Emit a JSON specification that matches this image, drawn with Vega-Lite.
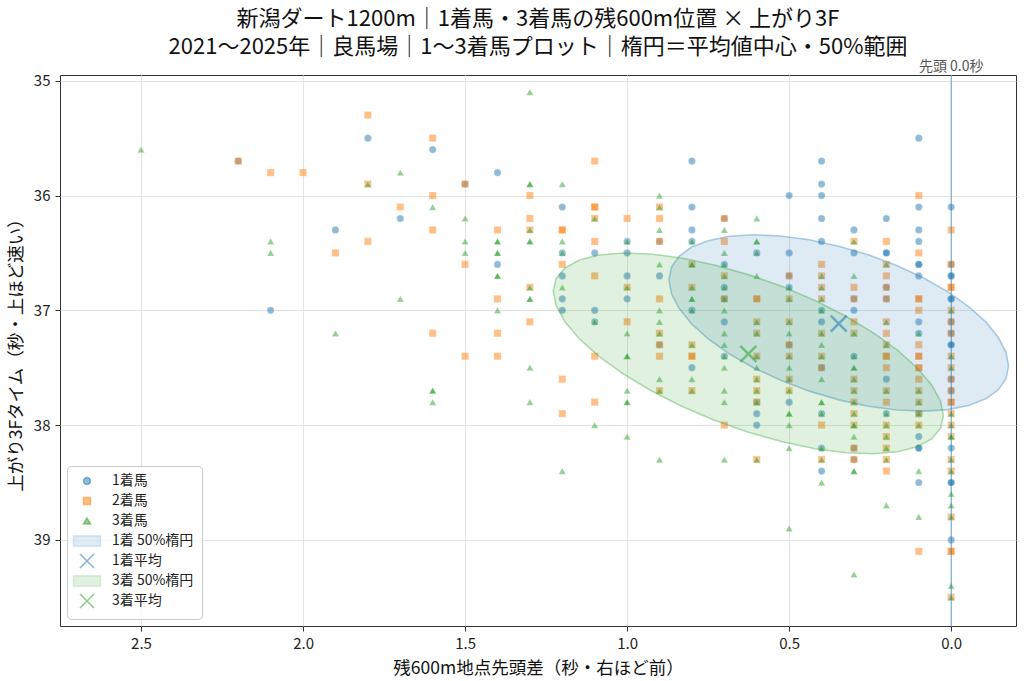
{
"$schema": "https://vega.github.io/schema/vega-lite/v6.json",
"autosize": {"type": "none"},
"width": 956,
"height": 551,
"padding": {"left": 60, "top": 75, "right": 8, "bottom": 55},
"background": "white",
"title": {"text": ["新潟ダート1200m｜1着馬・3着馬の残600m位置 × 上がり3F", "2021～2025年｜良馬場｜1～3着馬プロット｜楕円＝平均値中心・50%範囲"], "fontSize": 22, "fontWeight": "normal", "font": "Noto Sans CJK JP", "color": "#111111", "lineHeight": 28, "offset": 1, "anchor": "middle"},
"datasets": {
"pts": [
{"s":"1着馬","x":1.8,"y":35.5},{"s":"1着馬","x":2.2,"y":35.7},{"s":"1着馬","x":1.9,"y":36.3},{"s":"1着馬","x":2.1,"y":37.0},
{"s":"1着馬","x":1.7,"y":36.2},{"s":"1着馬","x":1.6,"y":35.6},{"s":"1着馬","x":1.5,"y":35.9},{"s":"1着馬","x":1.4,"y":35.8},{"s":"1着馬","x":1.4,"y":36.6},
{"s":"1着馬","x":1.2,"y":36.1},{"s":"1着馬","x":1.2,"y":36.5},{"s":"1着馬","x":1.2,"y":36.7},{"s":"1着馬","x":1.2,"y":36.9},{"s":"1着馬","x":1.2,"y":37.0},
{"s":"1着馬","x":1.1,"y":36.5},{"s":"1着馬","x":1.1,"y":37.0},{"s":"1着馬","x":1.1,"y":37.1},
{"s":"1着馬","x":1.0,"y":36.4},{"s":"1着馬","x":1.0,"y":36.5},{"s":"1着馬","x":1.0,"y":36.7},{"s":"1着馬","x":1.0,"y":36.9},
{"s":"1着馬","x":0.9,"y":36.4},{"s":"1着馬","x":0.9,"y":36.7},{"s":"1着馬","x":0.9,"y":37.3},
{"s":"1着馬","x":0.8,"y":35.7},{"s":"1着馬","x":0.8,"y":36.1},{"s":"1着馬","x":0.8,"y":36.3},{"s":"1着馬","x":0.8,"y":36.4},{"s":"1着馬","x":0.8,"y":37.0},{"s":"1着馬","x":0.8,"y":37.5},
{"s":"1着馬","x":0.7,"y":36.2},{"s":"1着馬","x":0.7,"y":36.6},{"s":"1着馬","x":0.7,"y":36.8},{"s":"1着馬","x":0.7,"y":36.9},{"s":"1着馬","x":0.7,"y":37.1},{"s":"1着馬","x":0.7,"y":37.4},
{"s":"1着馬","x":0.6,"y":36.5},{"s":"1着馬","x":0.6,"y":37.8},{"s":"1着馬","x":0.6,"y":37.9},{"s":"1着馬","x":0.6,"y":38.0},
{"s":"1着馬","x":0.5,"y":36.0},{"s":"1着馬","x":0.5,"y":36.5},{"s":"1着馬","x":0.5,"y":36.7},{"s":"1着馬","x":0.5,"y":36.8},{"s":"1着馬","x":0.5,"y":37.3},{"s":"1着馬","x":0.5,"y":37.8},
{"s":"1着馬","x":0.4,"y":35.7},{"s":"1着馬","x":0.4,"y":35.9},{"s":"1着馬","x":0.4,"y":36.0},{"s":"1着馬","x":0.4,"y":36.2},{"s":"1着馬","x":0.4,"y":36.4},{"s":"1着馬","x":0.4,"y":37.0},{"s":"1着馬","x":0.4,"y":37.1},{"s":"1着馬","x":0.4,"y":37.5},{"s":"1着馬","x":0.4,"y":37.9},{"s":"1着馬","x":0.4,"y":38.2},{"s":"1着馬","x":0.4,"y":38.4},
{"s":"1着馬","x":0.3,"y":36.3},{"s":"1着馬","x":0.3,"y":36.5},{"s":"1着馬","x":0.3,"y":36.9},{"s":"1着馬","x":0.3,"y":37.0},{"s":"1着馬","x":0.3,"y":37.4},{"s":"1着馬","x":0.3,"y":38.2},{"s":"1着馬","x":0.3,"y":38.3},
{"s":"1着馬","x":0.2,"y":36.2},{"s":"1着馬","x":0.2,"y":36.5},{"s":"1着馬","x":0.2,"y":36.5},{"s":"1着馬","x":0.2,"y":36.8},{"s":"1着馬","x":0.2,"y":36.9},{"s":"1着馬","x":0.2,"y":37.6},{"s":"1着馬","x":0.2,"y":37.9},
{"s":"1着馬","x":0.1,"y":35.5},{"s":"1着馬","x":0.1,"y":36.1},{"s":"1着馬","x":0.1,"y":36.3},{"s":"1着馬","x":0.1,"y":36.4},{"s":"1着馬","x":0.1,"y":36.6},{"s":"1着馬","x":0.1,"y":36.6},{"s":"1着馬","x":0.1,"y":36.7},{"s":"1着馬","x":0.1,"y":37.1},{"s":"1着馬","x":0.1,"y":37.2},{"s":"1着馬","x":0.1,"y":37.9},{"s":"1着馬","x":0.1,"y":38.1},{"s":"1着馬","x":0.1,"y":38.2},{"s":"1着馬","x":0.1,"y":38.2},{"s":"1着馬","x":0.1,"y":38.5},
{"s":"1着馬","x":0.0,"y":36.1},{"s":"1着馬","x":0.0,"y":36.6},{"s":"1着馬","x":0.0,"y":36.7},{"s":"1着馬","x":0.0,"y":36.7},{"s":"1着馬","x":0.0,"y":36.9},{"s":"1着馬","x":0.0,"y":36.9},{"s":"1着馬","x":0.0,"y":37.1},{"s":"1着馬","x":0.0,"y":37.2},{"s":"1着馬","x":0.0,"y":37.3},{"s":"1着馬","x":0.0,"y":37.3},{"s":"1着馬","x":0.0,"y":37.6},{"s":"1着馬","x":0.0,"y":37.7},{"s":"1着馬","x":0.0,"y":38.2},{"s":"1着馬","x":0.0,"y":38.5},{"s":"1着馬","x":0.0,"y":38.5},{"s":"1着馬","x":0.0,"y":39.0},
{"s":"2着馬","x":2.2,"y":35.7},{"s":"2着馬","x":2.1,"y":35.8},{"s":"2着馬","x":2.0,"y":35.8},{"s":"2着馬","x":1.8,"y":35.3},{"s":"2着馬","x":1.8,"y":35.9},{"s":"2着馬","x":1.8,"y":36.4},{"s":"2着馬","x":1.9,"y":36.5},
{"s":"2着馬","x":1.7,"y":36.1},
{"s":"2着馬","x":1.6,"y":35.5},{"s":"2着馬","x":1.6,"y":36.0},{"s":"2着馬","x":1.6,"y":36.3},{"s":"2着馬","x":1.6,"y":37.2},
{"s":"2着馬","x":1.5,"y":35.9},{"s":"2着馬","x":1.5,"y":36.6},{"s":"2着馬","x":1.5,"y":37.4},
{"s":"2着馬","x":1.4,"y":36.3},{"s":"2着馬","x":1.4,"y":36.9},{"s":"2着馬","x":1.4,"y":37.2},{"s":"2着馬","x":1.4,"y":37.4},
{"s":"2着馬","x":1.3,"y":36.0},{"s":"2着馬","x":1.3,"y":36.2},{"s":"2着馬","x":1.3,"y":36.3},{"s":"2着馬","x":1.3,"y":36.8},{"s":"2着馬","x":1.3,"y":37.1},
{"s":"2着馬","x":1.2,"y":36.3},{"s":"2着馬","x":1.2,"y":36.3},{"s":"2着馬","x":1.2,"y":36.6},{"s":"2着馬","x":1.2,"y":37.6},{"s":"2着馬","x":1.2,"y":37.9},
{"s":"2着馬","x":1.1,"y":35.7},{"s":"2着馬","x":1.1,"y":36.1},{"s":"2着馬","x":1.1,"y":36.1},{"s":"2着馬","x":1.1,"y":36.2},{"s":"2着馬","x":1.1,"y":36.4},{"s":"2着馬","x":1.1,"y":36.7},{"s":"2着馬","x":1.1,"y":37.4},{"s":"2着馬","x":1.1,"y":37.8},
{"s":"2着馬","x":1.0,"y":36.2},{"s":"2着馬","x":1.0,"y":36.8},{"s":"2着馬","x":1.0,"y":37.1},
{"s":"2着馬","x":0.9,"y":36.1},{"s":"2着馬","x":0.9,"y":36.2},{"s":"2着馬","x":0.9,"y":36.4},{"s":"2着馬","x":0.9,"y":36.9},{"s":"2着馬","x":0.9,"y":37.2},{"s":"2着馬","x":0.9,"y":37.3},{"s":"2着馬","x":0.9,"y":37.4},{"s":"2着馬","x":0.9,"y":37.7},
{"s":"2着馬","x":0.8,"y":36.6},{"s":"2着馬","x":0.8,"y":36.8},{"s":"2着馬","x":0.8,"y":37.3},{"s":"2着馬","x":0.8,"y":37.4},{"s":"2着馬","x":0.8,"y":37.4},{"s":"2着馬","x":0.8,"y":37.7},
{"s":"2着馬","x":0.7,"y":36.2},{"s":"2着馬","x":0.7,"y":36.4},{"s":"2着馬","x":0.7,"y":36.7},{"s":"2着馬","x":0.7,"y":36.9},{"s":"2着馬","x":0.7,"y":38.0},
{"s":"2着馬","x":0.6,"y":36.9},{"s":"2着馬","x":0.6,"y":36.9},{"s":"2着馬","x":0.6,"y":37.1},{"s":"2着馬","x":0.6,"y":37.2},{"s":"2着馬","x":0.6,"y":37.4},{"s":"2着馬","x":0.6,"y":37.6},{"s":"2着馬","x":0.6,"y":37.7},{"s":"2着馬","x":0.6,"y":37.8},{"s":"2着馬","x":0.6,"y":38.3},
{"s":"2着馬","x":0.5,"y":36.7},{"s":"2着馬","x":0.5,"y":36.9},{"s":"2着馬","x":0.5,"y":37.1},{"s":"2着馬","x":0.5,"y":37.3},{"s":"2着馬","x":0.5,"y":37.4},{"s":"2着馬","x":0.5,"y":37.6},{"s":"2着馬","x":0.5,"y":37.7},
{"s":"2着馬","x":0.4,"y":36.6},{"s":"2着馬","x":0.4,"y":36.7},{"s":"2着馬","x":0.4,"y":36.8},{"s":"2着馬","x":0.4,"y":36.9},{"s":"2着馬","x":0.4,"y":37.2},{"s":"2着馬","x":0.4,"y":37.4},{"s":"2着馬","x":0.4,"y":37.5},{"s":"2着馬","x":0.4,"y":38.0},{"s":"2着馬","x":0.4,"y":38.3},
{"s":"2着馬","x":0.3,"y":36.4},{"s":"2着馬","x":0.3,"y":36.8},{"s":"2着馬","x":0.3,"y":36.9},{"s":"2着馬","x":0.3,"y":37.1},{"s":"2着馬","x":0.3,"y":37.2},{"s":"2着馬","x":0.3,"y":37.6},{"s":"2着馬","x":0.3,"y":37.7},{"s":"2着馬","x":0.3,"y":37.8},{"s":"2着馬","x":0.3,"y":37.9},{"s":"2着馬","x":0.3,"y":38.0},{"s":"2着馬","x":0.3,"y":38.2},{"s":"2着馬","x":0.3,"y":38.3},
{"s":"2着馬","x":0.2,"y":36.4},{"s":"2着馬","x":0.2,"y":36.6},{"s":"2着馬","x":0.2,"y":36.7},{"s":"2着馬","x":0.2,"y":36.8},{"s":"2着馬","x":0.2,"y":36.9},{"s":"2着馬","x":0.2,"y":37.1},{"s":"2着馬","x":0.2,"y":37.2},{"s":"2着馬","x":0.2,"y":37.3},{"s":"2着馬","x":0.2,"y":37.4},{"s":"2着馬","x":0.2,"y":37.4},{"s":"2着馬","x":0.2,"y":37.5},{"s":"2着馬","x":0.2,"y":37.7},{"s":"2着馬","x":0.2,"y":37.8},{"s":"2着馬","x":0.2,"y":38.0},{"s":"2着馬","x":0.2,"y":38.1},{"s":"2着馬","x":0.2,"y":38.2},{"s":"2着馬","x":0.2,"y":38.3},{"s":"2着馬","x":0.2,"y":38.4},
{"s":"2着馬","x":0.1,"y":36.0},{"s":"2着馬","x":0.1,"y":36.5},{"s":"2着馬","x":0.1,"y":36.9},{"s":"2着馬","x":0.1,"y":36.9},{"s":"2着馬","x":0.1,"y":37.0},{"s":"2着馬","x":0.1,"y":37.3},{"s":"2着馬","x":0.1,"y":37.4},{"s":"2着馬","x":0.1,"y":37.4},{"s":"2着馬","x":0.1,"y":37.5},{"s":"2着馬","x":0.1,"y":37.5},{"s":"2着馬","x":0.1,"y":37.6},{"s":"2着馬","x":0.1,"y":37.7},{"s":"2着馬","x":0.1,"y":37.8},{"s":"2着馬","x":0.1,"y":37.9},{"s":"2着馬","x":0.1,"y":38.0},{"s":"2着馬","x":0.1,"y":39.1},
{"s":"2着馬","x":0.0,"y":36.3},{"s":"2着馬","x":0.0,"y":36.6},{"s":"2着馬","x":0.0,"y":36.8},{"s":"2着馬","x":0.0,"y":36.8},{"s":"2着馬","x":0.0,"y":37.0},{"s":"2着馬","x":0.0,"y":37.1},{"s":"2着馬","x":0.0,"y":37.2},{"s":"2着馬","x":0.0,"y":37.4},{"s":"2着馬","x":0.0,"y":37.5},{"s":"2着馬","x":0.0,"y":37.6},{"s":"2着馬","x":0.0,"y":37.7},{"s":"2着馬","x":0.0,"y":37.8},{"s":"2着馬","x":0.0,"y":37.8},{"s":"2着馬","x":0.0,"y":37.9},{"s":"2着馬","x":0.0,"y":38.0},{"s":"2着馬","x":0.0,"y":38.1},{"s":"2着馬","x":0.0,"y":38.3},{"s":"2着馬","x":0.0,"y":38.4},{"s":"2着馬","x":0.0,"y":38.8},{"s":"2着馬","x":0.0,"y":39.1},{"s":"2着馬","x":0.0,"y":39.1},{"s":"2着馬","x":0.0,"y":39.5},
{"s":"3着馬","x":2.5,"y":35.6},{"s":"3着馬","x":2.1,"y":36.4},{"s":"3着馬","x":2.1,"y":36.5},{"s":"3着馬","x":1.9,"y":37.2},{"s":"3着馬","x":1.8,"y":35.9},
{"s":"3着馬","x":1.7,"y":35.8},{"s":"3着馬","x":1.7,"y":36.9},
{"s":"3着馬","x":1.6,"y":36.1},{"s":"3着馬","x":1.6,"y":37.7},{"s":"3着馬","x":1.6,"y":37.7},{"s":"3着馬","x":1.6,"y":37.8},
{"s":"3着馬","x":1.5,"y":36.2},{"s":"3着馬","x":1.5,"y":36.4},{"s":"3着馬","x":1.5,"y":36.5},
{"s":"3着馬","x":1.4,"y":36.4},{"s":"3着馬","x":1.4,"y":36.4},{"s":"3着馬","x":1.4,"y":36.5},{"s":"3着馬","x":1.4,"y":36.5},{"s":"3着馬","x":1.4,"y":36.7},{"s":"3着馬","x":1.4,"y":36.7},{"s":"3着馬","x":1.4,"y":37.0},
{"s":"3着馬","x":1.3,"y":35.1},{"s":"3着馬","x":1.3,"y":35.9},{"s":"3着馬","x":1.3,"y":35.9},{"s":"3着馬","x":1.3,"y":36.3},{"s":"3着馬","x":1.3,"y":36.4},{"s":"3着馬","x":1.3,"y":36.4},{"s":"3着馬","x":1.3,"y":36.8},{"s":"3着馬","x":1.3,"y":36.9},{"s":"3着馬","x":1.3,"y":36.9},{"s":"3着馬","x":1.3,"y":37.5},{"s":"3着馬","x":1.3,"y":37.8},
{"s":"3着馬","x":1.2,"y":35.9},{"s":"3着馬","x":1.2,"y":36.4},{"s":"3着馬","x":1.2,"y":36.5},{"s":"3着馬","x":1.2,"y":36.8},{"s":"3着馬","x":1.2,"y":38.4},
{"s":"3着馬","x":1.1,"y":36.2},{"s":"3着馬","x":1.1,"y":37.1},{"s":"3着馬","x":1.1,"y":38.0},
{"s":"3着馬","x":1.0,"y":36.4},{"s":"3着馬","x":1.0,"y":36.8},{"s":"3着馬","x":1.0,"y":37.2},{"s":"3着馬","x":1.0,"y":37.4},{"s":"3着馬","x":1.0,"y":37.4},{"s":"3着馬","x":1.0,"y":37.7},{"s":"3着馬","x":1.0,"y":37.8},{"s":"3着馬","x":1.0,"y":37.8},{"s":"3着馬","x":1.0,"y":38.1},
{"s":"3着馬","x":0.9,"y":36.0},{"s":"3着馬","x":0.9,"y":36.1},{"s":"3着馬","x":0.9,"y":36.3},{"s":"3着馬","x":0.9,"y":36.6},{"s":"3着馬","x":0.9,"y":37.0},{"s":"3着馬","x":0.9,"y":37.1},{"s":"3着馬","x":0.9,"y":37.2},{"s":"3着馬","x":0.9,"y":37.6},{"s":"3着馬","x":0.9,"y":37.7},{"s":"3着馬","x":0.9,"y":38.3},
{"s":"3着馬","x":0.8,"y":36.4},{"s":"3着馬","x":0.8,"y":36.6},{"s":"3着馬","x":0.8,"y":36.6},{"s":"3着馬","x":0.8,"y":36.8},{"s":"3着馬","x":0.8,"y":36.9},{"s":"3着馬","x":0.8,"y":36.9},{"s":"3着馬","x":0.8,"y":37.0},{"s":"3着馬","x":0.8,"y":37.3},{"s":"3着馬","x":0.8,"y":37.6},{"s":"3着馬","x":0.8,"y":37.7},
{"s":"3着馬","x":0.7,"y":36.3},{"s":"3着馬","x":0.7,"y":36.5},{"s":"3着馬","x":0.7,"y":36.6},{"s":"3着馬","x":0.7,"y":36.7},{"s":"3着馬","x":0.7,"y":36.8},{"s":"3着馬","x":0.7,"y":36.9},{"s":"3着馬","x":0.7,"y":37.0},{"s":"3着馬","x":0.7,"y":37.2},{"s":"3着馬","x":0.7,"y":37.3},{"s":"3着馬","x":0.7,"y":37.4},{"s":"3着馬","x":0.7,"y":37.5},{"s":"3着馬","x":0.7,"y":37.7},{"s":"3着馬","x":0.7,"y":37.8},{"s":"3着馬","x":0.7,"y":38.3},
{"s":"3着馬","x":0.6,"y":36.2},{"s":"3着馬","x":0.6,"y":36.4},{"s":"3着馬","x":0.6,"y":36.4},{"s":"3着馬","x":0.6,"y":36.5},{"s":"3着馬","x":0.6,"y":36.7},{"s":"3着馬","x":0.6,"y":37.1},{"s":"3着馬","x":0.6,"y":37.2},{"s":"3着馬","x":0.6,"y":37.4},{"s":"3着馬","x":0.6,"y":37.5},{"s":"3着馬","x":0.6,"y":37.6},{"s":"3着馬","x":0.6,"y":37.7},{"s":"3着馬","x":0.6,"y":37.8},{"s":"3着馬","x":0.6,"y":38.3},
{"s":"3着馬","x":0.5,"y":36.8},{"s":"3着馬","x":0.5,"y":36.9},{"s":"3着馬","x":0.5,"y":37.1},{"s":"3着馬","x":0.5,"y":37.2},{"s":"3着馬","x":0.5,"y":37.4},{"s":"3着馬","x":0.5,"y":37.5},{"s":"3着馬","x":0.5,"y":37.6},{"s":"3着馬","x":0.5,"y":37.7},{"s":"3着馬","x":0.5,"y":37.9},{"s":"3着馬","x":0.5,"y":37.9},{"s":"3着馬","x":0.5,"y":38.0},{"s":"3着馬","x":0.5,"y":38.2},{"s":"3着馬","x":0.5,"y":38.9},
{"s":"3着馬","x":0.4,"y":36.7},{"s":"3着馬","x":0.4,"y":36.8},{"s":"3着馬","x":0.4,"y":36.9},{"s":"3着馬","x":0.4,"y":37.0},{"s":"3着馬","x":0.4,"y":37.2},{"s":"3着馬","x":0.4,"y":37.3},{"s":"3着馬","x":0.4,"y":37.4},{"s":"3着馬","x":0.4,"y":37.6},{"s":"3着馬","x":0.4,"y":37.8},{"s":"3着馬","x":0.4,"y":37.8},{"s":"3着馬","x":0.4,"y":37.9},{"s":"3着馬","x":0.4,"y":38.2},{"s":"3着馬","x":0.4,"y":38.3},{"s":"3着馬","x":0.4,"y":38.5},
{"s":"3着馬","x":0.3,"y":36.4},{"s":"3着馬","x":0.3,"y":36.7},{"s":"3着馬","x":0.3,"y":37.2},{"s":"3着馬","x":0.3,"y":37.4},{"s":"3着馬","x":0.3,"y":37.5},{"s":"3着馬","x":0.3,"y":37.5},{"s":"3着馬","x":0.3,"y":37.6},{"s":"3着馬","x":0.3,"y":37.7},{"s":"3着馬","x":0.3,"y":37.8},{"s":"3着馬","x":0.3,"y":37.9},{"s":"3着馬","x":0.3,"y":38.0},{"s":"3着馬","x":0.3,"y":38.0},{"s":"3着馬","x":0.3,"y":38.1},{"s":"3着馬","x":0.3,"y":38.4},{"s":"3着馬","x":0.3,"y":38.4},{"s":"3着馬","x":0.3,"y":39.3},
{"s":"3着馬","x":0.2,"y":36.6},{"s":"3着馬","x":0.2,"y":37.1},{"s":"3着馬","x":0.2,"y":37.3},{"s":"3着馬","x":0.2,"y":37.7},{"s":"3着馬","x":0.2,"y":37.9},{"s":"3着馬","x":0.2,"y":38.0},{"s":"3着馬","x":0.2,"y":38.1},{"s":"3着馬","x":0.2,"y":38.2},{"s":"3着馬","x":0.2,"y":38.3},{"s":"3着馬","x":0.2,"y":38.7},
{"s":"3着馬","x":0.1,"y":37.2},{"s":"3着馬","x":0.1,"y":37.7},{"s":"3着馬","x":0.1,"y":37.8},{"s":"3着馬","x":0.1,"y":37.9},{"s":"3着馬","x":0.1,"y":38.0},{"s":"3着馬","x":0.1,"y":38.4},{"s":"3着馬","x":0.1,"y":38.8},
{"s":"3着馬","x":0.0,"y":37.0},{"s":"3着馬","x":0.0,"y":37.4},{"s":"3着馬","x":0.0,"y":37.5},{"s":"3着馬","x":0.0,"y":37.9},{"s":"3着馬","x":0.0,"y":38.0},{"s":"3着馬","x":0.0,"y":38.1},{"s":"3着馬","x":0.0,"y":38.1},{"s":"3着馬","x":0.0,"y":38.3},{"s":"3着馬","x":0.0,"y":38.4},{"s":"3着馬","x":0.0,"y":38.6},{"s":"3着馬","x":0.0,"y":38.7},{"s":"3着馬","x":0.0,"y":38.8},{"s":"3着馬","x":0.0,"y":39.4},{"s":"3着馬","x":0.0,"y":39.5}
],
"ell1": [
{"s":"1着 50%楕円","x":0.871,"y":36.734,"y2":36.734},{"s":"1着 50%楕円","x":0.863,"y":36.623,"y2":36.856},{"s":"1着 50%楕円","x":0.839,"y":36.527,"y2":36.985},{"s":"1着 50%楕円","x":0.801,"y":36.449,"y2":37.119},{"s":"1着 50%楕円","x":0.748,"y":36.391,"y2":37.252},{"s":"1着 50%楕円","x":0.684,"y":36.355,"y2":37.381},{"s":"1着 50%楕円","x":0.609,"y":36.342,"y2":37.502},{"s":"1着 50%楕円","x":0.526,"y":36.352,"y2":37.610},{"s":"1着 50%楕円","x":0.438,"y":36.385,"y2":37.704},{"s":"1着 50%楕円","x":0.347,"y":36.441,"y2":37.780},{"s":"1着 50%楕円","x":0.256,"y":36.516,"y2":37.835},{"s":"1着 50%楕円","x":0.168,"y":36.610,"y2":37.868},{"s":"1着 50%楕円","x":0.085,"y":36.718,"y2":37.878},{"s":"1着 50%楕円","x":0.010,"y":36.839,"y2":37.865},{"s":"1着 50%楕円","x":-0.054,"y":36.968,"y2":37.829},{"s":"1着 50%楕円","x":-0.107,"y":37.101,"y2":37.771},{"s":"1着 50%楕円","x":-0.145,"y":37.235,"y2":37.693},{"s":"1着 50%楕円","x":-0.169,"y":37.364,"y2":37.597},{"s":"1着 50%楕円","x":-0.177,"y":37.486,"y2":37.486}
],
"ell3": [
{"s":"3着 50%楕円","x":1.228,"y":36.833,"y2":36.833},{"s":"3着 50%楕円","x":1.219,"y":36.722,"y2":36.960},{"s":"3着 50%楕円","x":1.192,"y":36.631,"y2":37.100},{"s":"3着 50%楕円","x":1.147,"y":36.562,"y2":37.249},{"s":"3着 50%楕円","x":1.087,"y":36.518,"y2":37.401},{"s":"3着 50%楕円","x":1.013,"y":36.500,"y2":37.552},{"s":"3着 50%楕円","x":0.927,"y":36.509,"y2":37.698},{"s":"3着 50%楕円","x":0.832,"y":36.544,"y2":37.835},{"s":"3着 50%楕円","x":0.731,"y":36.605,"y2":37.957},{"s":"3着 50%楕円","x":0.626,"y":36.689,"y2":38.062},{"s":"3着 50%楕円","x":0.521,"y":36.793,"y2":38.145},{"s":"3着 50%楕円","x":0.420,"y":36.915,"y2":38.206},{"s":"3着 50%楕円","x":0.325,"y":37.052,"y2":38.241},{"s":"3着 50%楕円","x":0.239,"y":37.198,"y2":38.250},{"s":"3着 50%楕円","x":0.165,"y":37.349,"y2":38.232},{"s":"3着 50%楕円","x":0.105,"y":37.502,"y2":38.188},{"s":"3着 50%楕円","x":0.060,"y":37.650,"y2":38.120},{"s":"3着 50%楕円","x":0.033,"y":37.790,"y2":38.028},{"s":"3着 50%楕円","x":0.024,"y":37.918,"y2":37.918}
],
"means": [
{"s":"1着平均","x":0.347,"y":37.115},{"s":"3着平均","x":0.626,"y":37.38}
],
"lead": [{"x":0.0,"t":"先頭 0.0秒"}]
},
"layer": [
{
"data": {"name": "pts"},
"mark": {"type": "point", "filled": true, "size": 52, "stroke": "white", "strokeWidth": 0.5, "strokeOpacity": 0.5, "opacity": 1},
"encoding": {
"x": {"field": "x", "type": "quantitative", "scale": {"domain": [-0.2, 2.75], "reverse": true, "nice": false, "zero": false}, "axis": {"title": "残600m地点先頭差（秒・右ほど前）", "values": [2.5, 2.0, 1.5, 1.0, 0.5, 0.0], "format": ".1f"}},
"y": {"field": "y", "type": "quantitative", "scale": {"domain": [34.95, 39.75], "reverse": true, "nice": false, "zero": false}, "axis": {"title": "上がり3Fタイム（秒・上ほど速い）", "values": [35, 36, 37, 38, 39], "format": "d"}},
"color": {"field": "s", "type": "nominal", "scale": {"domain": ["1着馬", "2着馬", "3着馬", "1着 50%楕円", "1着平均", "3着 50%楕円", "3着平均"], "range": ["rgba(31,119,180,0.5)", "rgba(255,127,14,0.5)", "rgba(44,160,44,0.5)", "rgba(31,119,180,0.15)", "rgba(31,119,180,0.55)", "rgba(44,160,44,0.15)", "rgba(44,160,44,0.55)"]},
 "legend": {"title": null, "orient": "bottom-left", "offset": 7, "padding": 8, "rowPadding": 0, "gridAlign": "all", "symbolSize": 49, "symbolOffset": 5, "labelOffset": 18, "labelFontSize": 14, "labelFont": "Noto Sans CJK JP", "labelColor": "#222222", "strokeColor": "#cccccc", "fillColor": "rgba(255,255,255,0.8)", "cornerRadius": 4,
 "encode": {"symbols": {
 "fill": {"value": {"expr": "indexof(['1着平均','3着平均'], datum.value) >= 0 ? 'transparent' : scale('color', datum.value)"}},
 "stroke": {"value": {"expr": "datum.value == '1着平均' ? 'rgba(31,119,180,0.55)' : datum.value == '3着平均' ? 'rgba(44,160,44,0.55)' : datum.value == '1着 50%楕円' ? 'rgba(31,119,180,0.35)' : datum.value == '3着 50%楕円' ? 'rgba(44,160,44,0.35)' : 'transparent'"}},
 "strokeWidth": {"value": {"expr": "indexof(['1着平均','3着平均'], datum.value) >= 0 ? 2.5 : 1.5"}},
 "opacity": {"value": 1}
 }}}},
"shape": {"field": "s", "type": "nominal", "scale": {"domain": ["1着馬", "2着馬", "3着馬", "1着 50%楕円", "1着平均", "3着 50%楕円", "3着平均"], "range": ["circle", "square", "triangle-up", "M-3.86,-1.5H3.86V1.5H-3.86Z", "M-2,-2L2,2M-2,2L2,-2", "M-3.86,-1.5H3.86V1.5H-3.86Z", "M-2,-2L2,2M-2,2L2,-2"]}, "legend": {"title": null}}
}
},
{
"data": {"name": "ell1"},
"mark": {"type": "area", "stroke": "rgba(31,119,180,0.35)", "strokeWidth": 1.6, "interpolate": "linear"},
"encoding": {
"x": {"field": "x", "type": "quantitative", "scale": {"domain": [-0.2, 2.75], "reverse": true, "nice": false, "zero": false}},
"y": {"field": "y", "type": "quantitative", "scale": {"domain": [34.95, 39.75], "reverse": true, "nice": false, "zero": false}},
"y2": {"field": "y2"},
"color": {"field": "s", "type": "nominal", "scale": {"domain": ["1着馬", "2着馬", "3着馬", "1着 50%楕円", "1着平均", "3着 50%楕円", "3着平均"], "range": ["rgba(31,119,180,0.5)", "rgba(255,127,14,0.5)", "rgba(44,160,44,0.5)", "rgba(31,119,180,0.15)", "rgba(31,119,180,0.55)", "rgba(44,160,44,0.15)", "rgba(44,160,44,0.55)"]}}
}
},
{
"data": {"name": "ell3"},
"mark": {"type": "area", "stroke": "rgba(44,160,44,0.35)", "strokeWidth": 1.6, "interpolate": "linear"},
"encoding": {
"x": {"field": "x", "type": "quantitative", "scale": {"domain": [-0.2, 2.75], "reverse": true, "nice": false, "zero": false}},
"y": {"field": "y", "type": "quantitative", "scale": {"domain": [34.95, 39.75], "reverse": true, "nice": false, "zero": false}},
"y2": {"field": "y2"},
"color": {"field": "s", "type": "nominal", "scale": {"domain": ["1着馬", "2着馬", "3着馬", "1着 50%楕円", "1着平均", "3着 50%楕円", "3着平均"], "range": ["rgba(31,119,180,0.5)", "rgba(255,127,14,0.5)", "rgba(44,160,44,0.5)", "rgba(31,119,180,0.15)", "rgba(31,119,180,0.55)", "rgba(44,160,44,0.15)", "rgba(44,160,44,0.55)"]}}
}
},
{
"data": {"name": "lead"},
"mark": {"type": "rule", "color": "#1f77b4", "opacity": 0.55, "strokeWidth": 1.2},
"encoding": {
"x": {"field": "x", "type": "quantitative", "scale": {"domain": [-0.2, 2.75], "reverse": true, "nice": false, "zero": false}}
}
},
{
"data": {"name": "lead"},
"mark": {"type": "text", "baseline": "bottom", "align": "center", "dy": -1, "fontSize": 14, "font": "Noto Sans CJK JP", "color": "#555555"},
"encoding": {
"x": {"field": "x", "type": "quantitative", "scale": {"domain": [-0.2, 2.75], "reverse": true, "nice": false, "zero": false}},
"y": {"datum": 34.95, "type": "quantitative", "scale": {"domain": [34.95, 39.75], "reverse": true, "nice": false, "zero": false}},
"text": {"field": "t"}
}
},
{
"data": {"name": "means"},
"mark": {"type": "point", "filled": false, "size": 64, "strokeWidth": 2.5, "opacity": 1},
"encoding": {
"x": {"field": "x", "type": "quantitative", "scale": {"domain": [-0.2, 2.75], "reverse": true, "nice": false, "zero": false}},
"y": {"field": "y", "type": "quantitative", "scale": {"domain": [34.95, 39.75], "reverse": true, "nice": false, "zero": false}},
"color": {"field": "s", "type": "nominal", "scale": {"domain": ["1着馬", "2着馬", "3着馬", "1着 50%楕円", "1着平均", "3着 50%楕円", "3着平均"], "range": ["rgba(31,119,180,0.5)", "rgba(255,127,14,0.5)", "rgba(44,160,44,0.5)", "rgba(31,119,180,0.15)", "rgba(31,119,180,0.55)", "rgba(44,160,44,0.15)", "rgba(44,160,44,0.55)"]}},
"shape": {"field": "s", "type": "nominal", "scale": {"domain": ["1着馬", "2着馬", "3着馬", "1着 50%楕円", "1着平均", "3着 50%楕円", "3着平均"], "range": ["circle", "square", "triangle-up", "M-3.86,-1.5H3.86V1.5H-3.86Z", "M-2,-2L2,2M-2,2L2,-2", "M-3.86,-1.5H3.86V1.5H-3.86Z", "M-2,-2L2,2M-2,2L2,-2"]}}
}
}
],
"config": {
"font": "Noto Sans CJK JP",
"view": {"stroke": "#333333", "strokeWidth": 1},
"axis": {"domain": false, "grid": true, "gridColor": "#e3e3e3", "tickColor": "#333333", "tickSize": 5, "labelFontSize": 15, "labelColor": "#222222", "titleFontSize": 17.5, "titleFontWeight": "normal", "titleColor": "#111111", "labelFont": "Noto Sans CJK JP", "titleFont": "Noto Sans CJK JP"},
"axisX": {"labelPadding": 5, "titlePadding": 8},
"axisY": {"labelPadding": 5, "titlePadding": 8}
}
}
